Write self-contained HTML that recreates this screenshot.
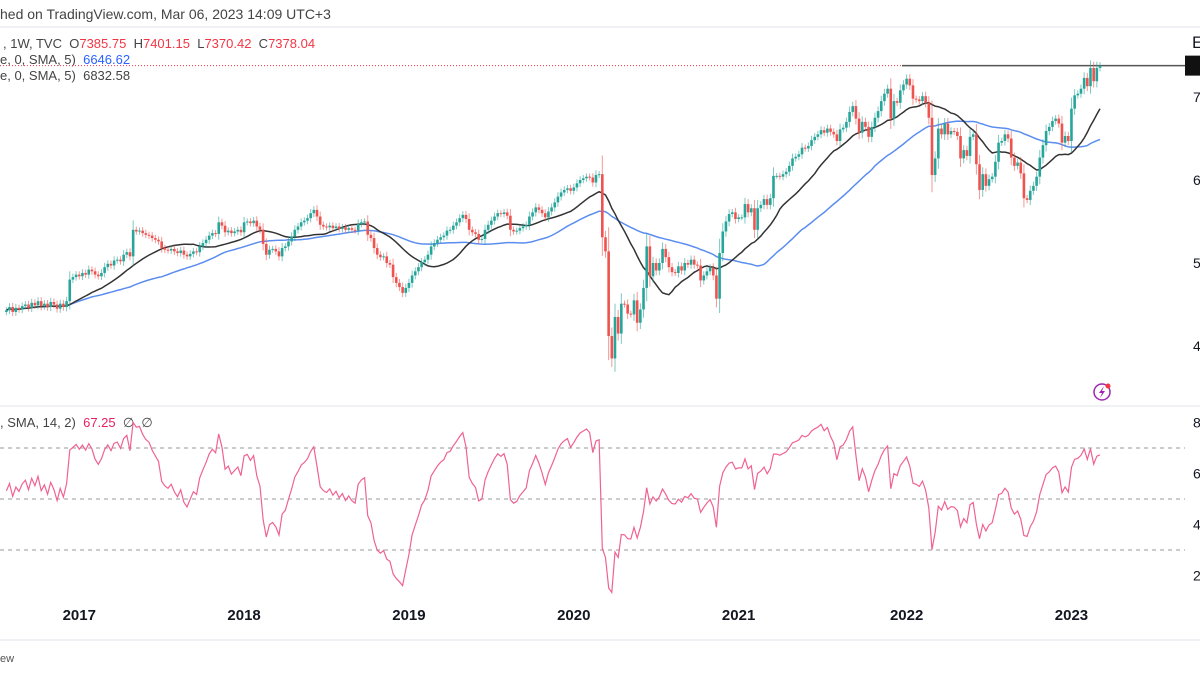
<!DOCTYPE html>
<html><head><meta charset="utf-8"><style>
html,body{margin:0;padding:0;background:#fff;width:1200px;height:675px;overflow:hidden;font-family:"Liberation Sans",sans-serif}
svg{position:absolute;left:0;top:0}
</style></head><body>
<svg id="c" width="1200" height="675"></svg>
<script>
const closes = [
4430,4470,4410,4460,4440,4480, 4500,4460,4520,4490,4540,4480, 4510,4470,4530,4500,4450,4510,
4470,4540,4800, 4830,4860,4840,4880,4860, 4920,4900,4860,4840,4880, 4950,4990,4970,5030,5040,5020,
5100,5130,5080, 5400,5380,5390,5360,5340,5330, 5300,5280,5260,5180,5160, 5150,5170,5140,5120,5150,
5100,5080,5110,5140,5130, 5200,5240,5280,5330,5360,5350, 5490,5450,5370,5390,5360,5380,5400,5370,
5490,5500,5480,5510,5440,5400, 5230,5100,5160,5170,5140,5080, 5180,5200,5260,5320,5400,5440,
5490,5510,5540,5600,5640,5560, 5460,5440,5430,5450,5420,5440,5410,5430,5400, 5420,5400,5390,5470,5490,5500,
5340,5300,5180,5100,5070,5080,5000,4980, 4830,4760,4710,4640,4700, 4760,4850,4900,4950,5010,5040,
5100,5200,5240,5280,5310,5330,5390,5400, 5450,5490,5540,5580,5530, 5400,5370,5350,5280,5290,5400,
5460,5510,5560,5600,5590,5610,5570, 5400,5380,5390,5420,5440,5460, 5560,5610,5670,5640,5600,5550,5620,5670,
5730,5800,5850,5880,5900,5870,5910,5960, 6000,6020,6040,6030,5970,6060, 6070,
5310,5140,4120,3850,4350,4150,4510,4500,4390,4380, 4550,4280,4440,4700,5200,4840,5000,4910,5000,5170,
5070,4950,4890,4880,4960,4910,5000,4980,5040,4980, 4970,4790,4850,4900,4940,4850,4570,5120,5380,5500,
5590,5610,5530,5550,
5550,5710,5610,5660,5400,5660,5700,5770,5700,5780, 6050,6050,6040,6070,6100,6170,6260,6280,6310,6390,
6380,6410,6480,6520,6550,6600,6570,6620,6580,6550, 6470,6610,6630,6700,6820,6890,6740,6570,6700,6640,
6520,6640,6750,6830,6950,7040,7100,6740,6950,6930,7080,7150,
7220,7140,6980,6970,6950,7010,6930,6750,6060,6260,6620,6550,6680,6550,6590,6580,6530,6260,6360,6290,
6520,6550,6190,5880,6070,5930,6010,6040,6220,6450,6470,6550,6500,6270,6170,6210,6080,5780,5760,5870,
5930,6040,6270,6420,6590,6640,6710,6740,6680,6450,6530,6470,
6860,7020,7040,7100,7230,7130,7350,7190,7350,7378
];
const yearLabels = ["2017","2018","2019","2020","2021","2022","2023"];
const yearWeekIndex = [23,75,127,179,231,284,336];
const priceTicks = [7000,6000,5000,4000];
const priceTickText = ["7","6","5","4"];
const rsiTicks = [80,60,40,20];
const rsiTickText = ["8","6","4","2"];
const rsiLevels = [70,50,30];

const NS="http://www.w3.org/2000/svg";
const svg=document.getElementById('c');
function mk(t,a,p){const e=document.createElementNS(NS,t);for(const k in a)e.setAttribute(k,a[k]);(p||svg).appendChild(e);return e;}
const n=closes.length, STEP=3.17, LASTX=1100;
const xAt=i=>LASTX-(n-1-i)*STEP;
const py=p=>97-(p-7000)*0.083;
const ry=v=>499-(v-50)*2.55;

let e;
e=mk('line',{x1:0,y1:27,x2:1200,y2:27,stroke:'#e0e3eb'});


e=mk('line',{x1:0,y1:406,x2:1200,y2:406,stroke:'#e0e3eb'});


e=mk('line',{x1:0,y1:640,x2:1200,y2:640,stroke:'#e0e3eb'});



function txt(x,y,s,o){const t=mk('text',Object.assign({x:x,y:y,'font-size':13,fill:'#444','font-family':'"Liberation Sans",sans-serif'},o||{}));t.textContent=s;return t;}
e=txt(0,19,'hed on TradingView.com, Mar 06, 2023 14:09 UTC+3',{'font-size':14});


e=mk('text',{x:3,y:48,'font-size':13,fill:'#444'});
e.innerHTML=', 1W, TVC  O<tspan fill="#f23645">7385.75</tspan>  H<tspan fill="#f23645">7401.15</tspan>  L<tspan fill="#f23645">7370.42</tspan>  C<tspan fill="#f23645">7378.04</tspan>';
e.style.whiteSpace='pre';


e=mk('text',{x:0,y:64,'font-size':13,fill:'#444'});
e.innerHTML='e, 0, SMA, 5)  <tspan fill="#2962ff">6646.62</tspan>';e.style.whiteSpace='pre';


e=mk('text',{x:0,y:80,'font-size':13,fill:'#444'});
e.textContent='e, 0, SMA, 5)  6832.58';e.style.whiteSpace='pre';


e=mk('text',{x:0,y:427,'font-size':13,fill:'#444'});
e.innerHTML=', SMA, 14, 2)  <tspan fill="#e91e63">67.25</tspan>  ∅  ∅';e.style.whiteSpace='pre';



priceTicks.forEach((v,i)=>{const t=txt(1193,py(v)+5,priceTickText[i],{fill:'#131722','font-size':14});

});
e=txt(1192,48,'E',{fill:'#131722','font-size':17});


rsiTicks.forEach((v,i)=>{const t=txt(1193,ry(v)+5,rsiTickText[i],{fill:'#131722','font-size':14});

});
rsiLevels.forEach(v=>{const l=mk('line',{x1:0,y1:ry(v),x2:1185,y2:ry(v),stroke:'#9598a1','stroke-dasharray':'4 4','stroke-width':1});

});
yearLabels.forEach((s,i)=>{const t=txt(xAt(yearWeekIndex[i]),620,s,{'font-size':15,'font-weight':'bold',fill:'#131722','text-anchor':'middle'});

});
e=txt(0,662,'ew',{'font-size':11,fill:'#555'});



const lastY=py(closes[n-1]);
e=mk('line',{x1:0,y1:lastY,x2:1185,y2:lastY,stroke:'#f23645','stroke-dasharray':'1 2','stroke-width':1});


e=mk('line',{x1:902,y1:lastY,x2:1185,y2:lastY,stroke:'#555','stroke-width':1.5});


e=mk('rect',{x:1185,y:lastY-10,width:15,height:20,fill:'#111'});



function sma(len){return closes.map((c,i)=>{const s=Math.max(0,i-len+1);let t=0;for(let j=s;j<=i;j++)t+=closes[j];return t/(i-s+1);});}
const smaSlow=sma(50), smaFast=sma(20);
e=mk('polyline',{points:smaSlow.map((v,i)=>xAt(i).toFixed(1)+','+py(v).toFixed(1)).join(' '),fill:'none',stroke:'#5b8def','stroke-width':1.5});


e=mk('polyline',{points:smaFast.map((v,i)=>xAt(i).toFixed(1)+','+py(v).toFixed(1)).join(' '),fill:'none',stroke:'#333','stroke-width':1.5});



const g=mk('g',{});


closes.forEach((c,i)=>{
  const o=i?closes[i-1]:c-20;
  const up=c>=o, col=up?'#26a69a':'#ef5350';
  const w=Math.abs(c-o)*0.25+35;
  const x=xAt(i);
  const hi=Math.max(o,c)+w, lo=Math.min(o,c)-w;
  const wk=mk('line',{x1:x,y1:py(hi),x2:x,y2:py(lo),stroke:col,'stroke-width':1,opacity:0.6},g);
  
  
  const top=py(Math.max(o,c)), bot=py(Math.min(o,c));
  const b=mk('rect',{x:x-1.3,y:top,width:2.6,height:Math.max(1,bot-top),fill:col},g);
  
  
});

const rsi=[];let ag=25,al=22;
closes.forEach((c,i)=>{
  if(i===0){rsi.push(100-100/(1+ag/al));return;}
  const d=c-closes[i-1],gn=Math.max(d,0),ls=Math.max(-d,0);
  ag=(ag*13+gn)/14; al=(al*13+ls)/14;
  rsi.push(al===0?100:100-100/(1+ag/al));
});
e=mk('polyline',{points:rsi.map((v,i)=>xAt(i).toFixed(1)+','+ry(v).toFixed(1)).join(' '),fill:'none',stroke:'#f06292','stroke-width':1.2});



e=mk('circle',{cx:1102,cy:392,r:8,fill:'none',stroke:'#9c27b0','stroke-width':1.5});


e=mk('path',{d:'M1104 386 L1099 393 L1102 393 L1100 398 L1105 391 L1102 391 Z',fill:'#9c27b0'});


e=mk('circle',{cx:1108,cy:386,r:2.5,fill:'#f23645'});


</script>
</body></html>
